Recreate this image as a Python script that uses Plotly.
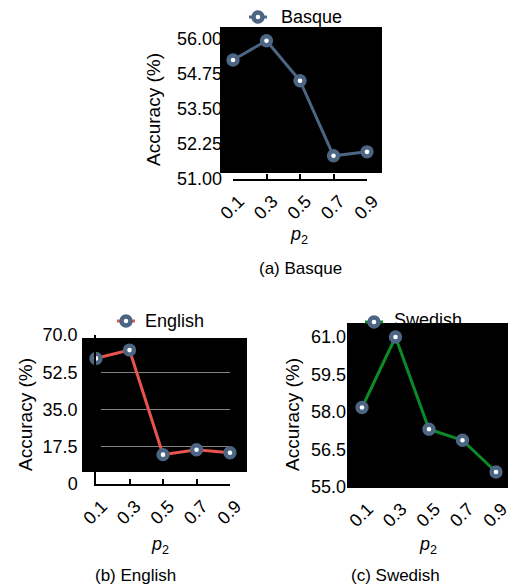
import plotly.graph_objects as go

# ---------------- data ----------------
p2_values = [0.1, 0.3, 0.5, 0.7, 0.9]
p2_labels = ["0.1", "0.3", "0.5", "0.7", "0.9"]

basque_acc = [55.25, 55.94, 54.51, 51.83, 51.97]
english_acc = [59.0, 62.9, 13.8, 16.1, 14.7]
swedish_acc = [58.18, 61.0, 57.31, 56.87, 55.6]

basque_ticks = [51.0, 52.25, 53.5, 54.75, 56.0]
basque_ticktext = ["51.00", "52.25", "53.50", "54.75", "56.00"]
english_ticks = [0, 17.5, 35.0, 52.5, 70.0]
english_ticktext = ["0", "17.5", "35.0", "52.5", "70.0"]
swedish_ticks = [55.0, 56.5, 58.0, 59.5, 61.0]
swedish_ticktext = ["55.0", "56.5", "58.0", "59.5", "61.0"]

series_names = ["Basque", "English", "Swedish"]
captions = ["(a) Basque", "(b) English", "(c) Swedish"]

# ---------------- styling ----------------
W, H = 508, 587
FONT = "Liberation Sans, Arial, Helvetica, sans-serif"
SLATE = "#4b6582"
RED = "#e9544c"
GREEN = "#0b8a28"
BLACK = "#000000"


def fx(px):
    return px / W


def fy(py):
    return 1 - py / H


def ydom(top, bottom):
    return [fy(bottom), fy(top)]


fig = go.Figure()

marker_style = dict(size=9, color="white", line=dict(color=SLATE, width=4.4))

# data traces
fig.add_trace(go.Scatter(x=p2_values, y=basque_acc, mode="lines+markers",
                         line=dict(color=SLATE, width=3), marker=marker_style,
                         cliponaxis=False, showlegend=False, xaxis="x", yaxis="y"))
fig.add_trace(go.Scatter(x=p2_values, y=english_acc, mode="lines+markers",
                         line=dict(color=RED, width=3), marker=marker_style,
                         cliponaxis=False, showlegend=False, xaxis="x2", yaxis="y2"))
fig.add_trace(go.Scatter(x=p2_values, y=swedish_acc, mode="lines+markers",
                         line=dict(color=GREEN, width=3), marker=marker_style,
                         cliponaxis=False, showlegend=False, xaxis="x3", yaxis="y3"))

# legend handles (overlay pixel axes)
legend_handles = [
    (SLATE, 258, 17),
    (RED, 126, 321),
    (GREEN, 374, 322),
]
for col, mx, my in legend_handles:
    fig.add_trace(go.Scatter(x=[mx - 9, mx + 9], y=[my, my], mode="lines",
                             line=dict(color=col, width=3), cliponaxis=False,
                             showlegend=False, xaxis="x4", yaxis="y4", hoverinfo="skip"))
    fig.add_trace(go.Scatter(x=[mx], y=[my], mode="markers", marker=marker_style,
                             cliponaxis=False, showlegend=False,
                             xaxis="x4", yaxis="y4", hoverinfo="skip"))

# Swedish legend text, clipped by the black panel
fig.add_trace(go.Scatter(x=[428], y=[321], mode="text", text=[series_names[2]],
                         textposition="middle center",
                         textfont=dict(family=FONT, size=18, color=BLACK),
                         cliponaxis=True, showlegend=False,
                         xaxis="x5", yaxis="y5", hoverinfo="skip"))

tickfont = dict(family=FONT, size=18, color=BLACK)

common_x = dict(range=[0.1, 0.9], tickvals=p2_values, ticktext=p2_labels,
                tickangle=-45, tickfont=tickfont, showgrid=False, zeroline=False,
                automargin=False, ticklabelshift=6, ticklabeloverflow="allow")

layout = dict(
    width=W, height=H,
    margin=dict(l=0, r=0, t=0, b=0, pad=0, autoexpand=False),
    paper_bgcolor="white", plot_bgcolor="rgba(0,0,0,0)",
    font=dict(family=FONT, color=BLACK),
    showlegend=False,
    # Basque
    xaxis=dict(domain=[fx(233), fx(367)], anchor="y", showline=True, linecolor=BLACK,
               linewidth=1.5, ticks="inside", ticklen=5, tickwidth=1.5, tickcolor=BLACK,
               ticklabelstandoff=3, **common_x),
    yaxis=dict(domain=ydom(39, 179), anchor="x", range=[51, 56], tickvals=basque_ticks,
               ticktext=basque_ticktext, tickfont=tickfont, showgrid=False,
               zeroline=False, showline=False, ticks="", ticklabelstandoff=10,
               automargin=False),
    # English
    xaxis2=dict(domain=[fx(96), fx(230)], anchor="y2", showline=True, linecolor=BLACK,
                linewidth=1.5, ticks="inside", ticklen=5, tickwidth=1.5, tickcolor=BLACK,
                ticklabelstandoff=3, **common_x),
    yaxis2=dict(domain=ydom(335, 484), anchor="x2", range=[0, 70], tickvals=english_ticks,
                ticktext=english_ticktext, tickfont=tickfont, showgrid=True,
                gridcolor="rgba(200,200,200,0.65)", gridwidth=1.2,
                zeroline=False, showline=True, linecolor=BLACK, linewidth=1.5,
                ticks="inside", ticklen=5, tickwidth=1.5, tickcolor=BLACK,
                ticklabelstandoff=13, automargin=False),
    # Swedish
    xaxis3=dict(domain=[fx(362), fx(496)], anchor="y3", showline=False, ticks="",
                ticklabelstandoff=7, **common_x),
    yaxis3=dict(domain=ydom(337, 487), anchor="x3", range=[55, 61], tickvals=swedish_ticks,
                ticktext=swedish_ticktext, tickfont=tickfont, showgrid=False,
                zeroline=False, showline=False, ticks="", ticklabelstandoff=15,
                automargin=False),
    # pixel overlay
    xaxis4=dict(domain=[0, 1], range=[0, W], visible=False, anchor="y4", automargin=False),
    yaxis4=dict(domain=[0, 1], range=[H, 0], visible=False, anchor="x4", automargin=False),
    # clipped legend text area (above Swedish panel)
    xaxis5=dict(domain=[0, 1], range=[0, W], visible=False, anchor="y5", automargin=False),
    yaxis5=dict(domain=[fy(323), 1], range=[323, 0], visible=False, anchor="x5",
                automargin=False),
)
fig.update_layout(**layout)

# black panels
for (x0, y0, x1, y1) in [(220, 27, 382, 173), (82, 338, 247, 472), (347, 323, 508, 488)]:
    fig.add_shape(type="rect", xref="paper", yref="paper",
                  x0=fx(x0), x1=fx(x1), y0=fy(y1), y1=fy(y0),
                  fillcolor=BLACK, line=dict(width=0), layer="below")

annotations = []
# legend texts (Basque, English)
annotations.append(dict(x=fx(279), y=fy(17), xref="paper", yref="paper", text=series_names[0],
                        showarrow=False, xanchor="left", yanchor="middle",
                        font=dict(family=FONT, size=18, color=BLACK)))
annotations.append(dict(x=fx(143), y=fy(321), xref="paper", yref="paper", text=series_names[1],
                        showarrow=False, xanchor="left", yanchor="middle",
                        font=dict(family=FONT, size=18, color=BLACK)))
# y titles
for (cx, cy) in [(153, 110), (25, 415), (292, 415)]:
    annotations.append(dict(x=fx(cx), y=fy(cy), xref="paper", yref="paper",
                            text="Accuracy (%)", textangle=-90, showarrow=False,
                            xanchor="center", yanchor="middle",
                            font=dict(family=FONT, size=19, color=BLACK)))
# x titles
for (cx, cy) in [(299, 235), (160, 545), (428, 545)]:
    annotations.append(dict(x=fx(cx), y=fy(cy), xref="paper", yref="paper",
                            text="<i>p</i><sub>2</sub>", showarrow=False,
                            xanchor="center", yanchor="middle",
                            font=dict(family=FONT, size=18, color=BLACK)))
# captions
for cap, (cx, cy) in zip(captions, [(300, 268), (135, 575), (395, 575)]):
    annotations.append(dict(x=fx(cx), y=fy(cy), xref="paper", yref="paper",
                            text=cap, showarrow=False,
                            xanchor="center", yanchor="middle",
                            font=dict(family=FONT, size=17, color=BLACK)))
fig.update_layout(annotations=annotations)

fig.write_html("out.html",
               config={"displayModeBar": False},
               post_script="document.body.style.margin='0';document.body.style.overflow='hidden';")
